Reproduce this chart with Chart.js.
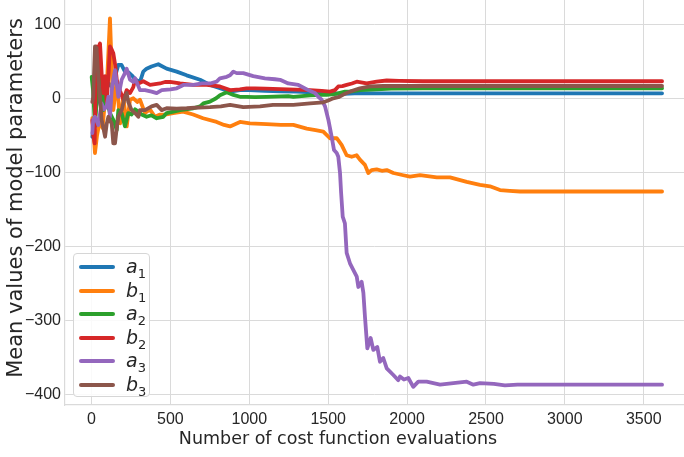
<!DOCTYPE html>
<html><head><meta charset="utf-8">
<script src="https://cdn.jsdelivr.net/npm/chart.js@4.4.1/dist/chart.umd.min.js"></script>
<style>
html,body{margin:0;padding:0;background:#fff;overflow:hidden;}
#wrap{position:relative;width:684px;height:457px;}
#c{position:absolute;left:0;top:0;}
#xl{position:absolute;left:138px;width:400px;text-align:center;top:428px;font:17.5px "DejaVu Sans";color:#262626;white-space:nowrap;}
#yl{position:absolute;left:15px;top:198px;width:420px;text-align:center;font:21px "DejaVu Sans";color:#262626;white-space:nowrap;transform:translate(-50%,-50%) rotate(-90deg);}
#lg{position:absolute;left:73px;top:253px;width:77px;height:144px;background:rgba(255,255,255,0.85);border:1px solid #d6d6d6;border-radius:4px;box-sizing:border-box;}
.row{position:absolute;left:0;height:24px;width:76px;}
.sw{position:absolute;left:5px;width:36px;height:4px;border-radius:2px;}
.lt{position:absolute;left:52px;font:italic 19px "DejaVu Sans";color:#262626;line-height:20px;}
.lt sub{font-size:13px;font-style:normal;vertical-align:-5px;line-height:0;}
</style></head>
<body><div id="wrap"><canvas id="c" width="684" height="457"></canvas>
<div id="xl">Number of cost function evaluations</div>
<div id="yl">Mean values of model parameters</div>
<div id="lg"></div></div>
<script>
const seriesNames = ['a','b','a','b','a','b'];
const seriesSubs  = ['1','1','2','2','3','3'];
const seriesColors = ['#1f77b4','#ff7f0e','#2ca02c','#d62728','#9467bd','#8c564b'];
const xTicks = [0,500,1000,1500,2000,2500,3000,3500];
const yTicks = [-400,-300,-200,-100,0,100];

const a1X = [5,15,30,50,70,90,110,130,150,170,190,212,235,255,280,307,328,349,380,423,476,540,603,688,751,814,878,941,1000,1100,1200,1300,1400,1500,1600,1700,1800,2000,2500,3000,3616];
const a1Y = [-52,-35,-10,5,15,25,20,15,30,45,45,36,35,31,25,22,36,40,43,46,40,36,31,25,18,13.5,9,11,11,10,9.5,9,8,7,6,7,6.5,6.7,6.7,6.7,6.7];

const b1X = [5,15,22,35,54,70,86,100,107,117,128,138,150,160,170,181,202,223,244,265,290,307,339,370,402,434,466,517,581,644,707,793,840,878,941,1004,1110,1200,1279,1364,1420,1469,1511,1554,1585,1617,1649,1680,1701,1733,1754,1775,1807,1840,1871,1913,1976,2018,2082,2188,2272,2378,2462,2525,2589,2650,2716,3000,3300,3616];
const b1Y = [-27,-52,-74,-50,-29,-40,-2,30,61,108,40,-16,5,20,-2,-34,2,-38,-2,0,-5,-2,-20,-15,-25,-22,-22,-20,-18,-22,-27,-32,-36,-38,-32,-34,-35,-36,-36,-41,-43,-45,-54,-54,-63,-77,-79,-77,-83,-90,-101,-97,-96,-98,-97,-101,-104,-106,-104,-107,-107,-113,-117,-119,-124,-125,-126,-126,-126,-126];

const a2X = [1,10,22,35,54,64,75,86,100,117,138,160,170,191,212,233,254,276,297,318,349,380,413,455,476,520,561,645,688,709,751,790,814,857,899,941,983,1036,1110,1247,1279,1385,1459,1490,1550,1607,1638,1701,1807,1900,2100,2500,3616];
const a2Y = [29,10,-38,5,47,16,-16,10,-5,-20,-29,-43,-16,-20,-38,-20,-22,-15,-18,-22,-25,-23,-27,-25,-20,-18,-16,-13.5,-11,-7,-4.5,0,4,8,4.5,2,2,1.5,2,3,2,4,4.5,4.5,6,9,9,11,12,13,13.5,13.5,13.5];

const b2X = [5,11,20,30,43,50,54,64,75,86,96,107,117,128,138,150,160,181,202,223,244,265,276,297,328,371,434,466,497,561,645,730,814,878,940,983,1036,1100,1247,1385,1459,1511,1543,1564,1590,1617,1650,1681,1744,1807,1871,1950,2100,2500,3616];
const b2Y = [-30,-50,-61,70,40,72,74,34,7,30,-5,30,70,66,61,45,25,10,-2,11,7,15,25,20,23,18,20,22,22,20,18,18,16,11,12,13.5,13.5,13,12,11,10,9,11,16,16.5,18,20,22.4,20,22.4,24,23.5,23,23,23];

const a3X = [5,11,22,43,64,80,96,107,117,128,138,149,160,170,191,212,223,244,265,276,307,339,381,413,445,500,540,582,645,700,751,793,814,857,878,899,920,962,1025,1099,1163,1195,1247,1311,1374,1416,1437,1459,1480,1501,1522,1537,1554,1564,1575,1582,1592,1606,1617,1638,1659,1681,1691,1712,1723,1733,1748,1769,1786,1811,1828,1849,1871,1913,1944,1955,1980,2008,2039,2071,2124,2209,2293,2378,2420,2462,2550,2620,2700,3000,3616];
const a3Y = [-47,-29,-25,-36,-7,-15,-11,2,-25,10,25,38,20,2,25,34,40,25,22,27,11,11,9,7,11,12,13.5,18,18,20,20,22.4,27,29,31,36,34,34,30,27,25.7,25,20,18,11,7,2,-2,-11,-29,-52,-70,-74,-79,-101,-128,-160,-169,-209,-223,-232,-241,-255,-248,-263,-295,-338,-324,-340,-336,-356,-351,-365,-374,-381,-376,-380,-378,-390,-383,-383,-387,-385,-383,-387,-385,-386,-388,-387,-387,-387];

const b3X = [5,11,22,32,43,54,64,75,86,96,107,117,128,138,149,160,170,191,212,223,233,254,276,297,307,339,381,413,445,476,540,603,680,751,820,878,962,1068,1150,1279,1385,1469,1500,1532,1564,1596,1638,1701,1765,1850,2000,2500,3616];
const b3Y = [-5,2,70,68,29,0,-29,-40,-52,-35,-25,-30,-34,-61,-61,-40,-25,-16,2,7,-5,-16,-20,-25,-16,-16,-11,-9,-16,-13.5,-14,-13.5,-12.5,-12,-11,-9,-12,-11,-9,-9,-7,-5.5,-3,0,1.4,5,9,13.5,16,16.6,16.6,16.6,16.6];

const allX = [a1X,b1X,a2X,b2X,a3X,b3X];
const allY = [a1Y,b1Y,a2Y,b2Y,a3Y,b3Y];

const datasets = allX.map((xs,i)=>({
  label: seriesNames[i]+seriesSubs[i],
  data: xs.map((x,j)=>({x:x,y:allY[i][j]})),
  borderColor: seriesColors[i],
  backgroundColor: seriesColors[i],
  borderWidth: 3.8,
  pointRadius: 0,
  tension: 0,
  fill: false,
  borderJoinStyle: 'round',
  borderCapStyle: 'round',
  order: 6 - i
}));

const fmt = v => (v < 0 ? '\u2212' + Math.abs(v) : String(v));
const gridColor = '#dadada';

new Chart(document.getElementById('c'), {
  type: 'line',
  data: { datasets: datasets },
  options: {
    responsive: false,
    devicePixelRatio: 1,
    animation: false,
    layout: { padding: 0, autoPadding: false },
    plugins: { legend: { display: false }, tooltip: { enabled: false } },
    scales: {
      x: {
        type: 'linear', min: -168, max: 3755,
        afterBuildTicks: s => { s.ticks = xTicks.map(v => ({ value: v })); },
        afterFit: s => { s.height = 52; s.paddingLeft = 0; s.paddingRight = 0; },
        grid: { color: gridColor, lineWidth: 1, drawTicks: false },
        border: { color: gridColor, width: 1.2 },
        ticks: { autoSkip: false, maxRotation: 0, padding: 5, color: '#262626', font: { family: 'Liberation Sans', size: 16 }, callback: v => fmt(v) }
      },
      y: {
        type: 'linear', min: -414.5, max: 132.8,
        afterBuildTicks: s => { s.ticks = yTicks.map(v => ({ value: v })); },
        afterFit: s => { s.width = 65; s.paddingTop = 0; s.paddingBottom = 0; },
        grid: { color: gridColor, lineWidth: 1, drawTicks: false },
        border: { color: gridColor, width: 1.2 },
        ticks: { autoSkip: false, padding: 4, color: '#262626', font: { family: 'Liberation Sans', size: 16 }, callback: v => fmt(v) }
      }
    }
  }
});

const lg = document.getElementById('lg');
seriesNames.forEach((n,i)=>{
  const row = document.createElement('div');
  row.className = 'row';
  row.style.top = (1 + i*23.5) + 'px';
  const sw = document.createElement('div');
  sw.className = 'sw';
  sw.style.top = '10px';
  sw.style.background = seriesColors[i];
  const t = document.createElement('div');
  t.className = 'lt';
  t.style.top = '1px';
  t.innerHTML = n + '<sub>' + seriesSubs[i] + '</sub>';
  row.appendChild(sw); row.appendChild(t); lg.appendChild(row);
});
</script></body></html>
